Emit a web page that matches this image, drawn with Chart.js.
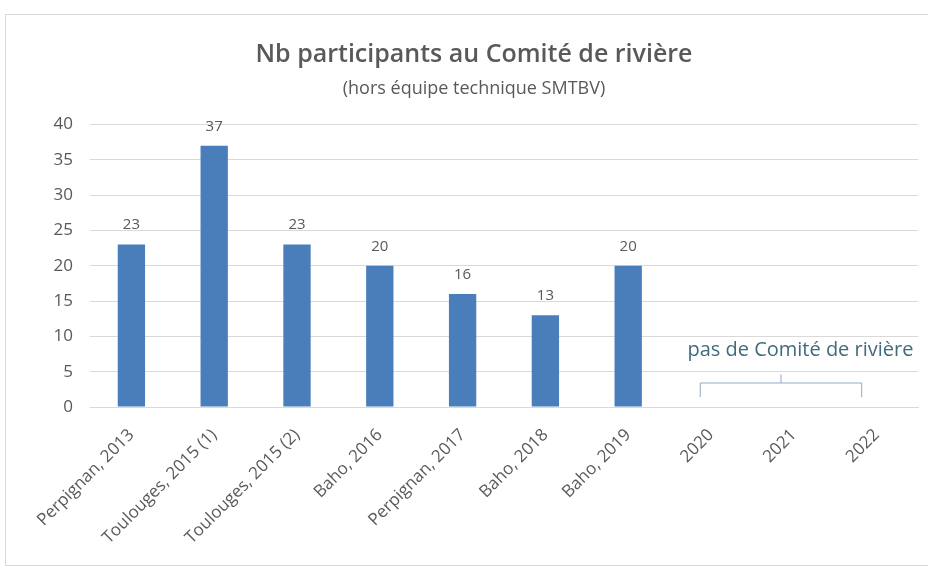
<!DOCTYPE html>
<html>
<head>
<meta charset="utf-8">
<script src="https://cdn.jsdelivr.net/npm/chart.js@4"></script>
<style>
    body { margin: 0; background: #fff; }
    #frame {
        position: absolute; left: 5px; top: 14px;
        width: 940px; height: 550px;
        border: 1px solid #d9d9d9;
    }
    #wrap { position: absolute; left: 0; top: 0; width: 928px; height: 566px; }
</style>
</head>
<body>
<div id="frame"></div>
<div id="wrap"><canvas id="myChart"></canvas></div>
<script>
const labels = ['Perpignan, 2013', 'Toulouges, 2015 (1)', 'Toulouges, 2015 (2)', 'Baho, 2016',
    'Perpignan, 2017', 'Baho, 2018', 'Baho, 2019', '2020', '2021', '2022'];
const participants = [23, 37, 23, 20, 16, 13, 20, null, null, null];
const yTicks = [0, 5, 10, 15, 20, 25, 30, 35, 40];
const noMeetingText = 'pas de Comité de rivière';

const grey = '#595959';
const font = '"Open Sans", Lato, sans-serif';

// value labels above each bar
const barValues = {
    id: 'barValues',
    afterDatasetsDraw(chart) {
        const ctx = chart.ctx;
        const meta = chart.getDatasetMeta(0);
        ctx.save();
        ctx.fillStyle = grey;
        ctx.font = '15px ' + font;
        ctx.textAlign = 'center';
        ctx.textBaseline = 'bottom';
        meta.data.forEach((bar, i) => {
            if (participants[i] == null) return;
            ctx.fillText(participants[i], bar.x, bar.y - 12);
        });
        ctx.restore();
    }
};

// bracket over the years without a meeting
const noMeeting = {
    id: 'noMeeting',
    afterDraw(chart) {
        const x = chart.scales.x, y = chart.scales.y;
        const ctx = chart.ctx;
        const x0 = x.getPixelForValue(6.87), x1 = x.getPixelForValue(8.82);
        const xm = (x0 + x1) / 2;
        const yLine = y.getPixelForValue(3.4);
        ctx.save();
        ctx.strokeStyle = '#8fa9c9';
        ctx.lineWidth = 1;
        ctx.beginPath();
        ctx.moveTo(x0, y.getPixelForValue(1.4));
        ctx.lineTo(x0, yLine);
        ctx.lineTo(x1, yLine);
        ctx.lineTo(x1, y.getPixelForValue(1.4));
        ctx.moveTo(xm, yLine);
        ctx.lineTo(xm, y.getPixelForValue(4.6));
        ctx.stroke();
        ctx.fillStyle = '#3f6b7c';
        ctx.font = '20px ' + font;
        ctx.textAlign = 'center';
        ctx.textBaseline = 'middle';
        ctx.fillText(noMeetingText, x.getPixelForValue(8.08), y.getPixelForValue(8));
        ctx.restore();
    }
};

const data = {
    labels: labels,
    datasets: [{
        data: participants,
        backgroundColor: '#4a7ebb',
        categoryPercentage: 1,
        barPercentage: 0.33
    }]
};

const config = {
    type: 'bar',
    data: data,
    options: {
        responsive: true,
        maintainAspectRatio: false,
        animation: false,
        layout: { padding: { left: 30, right: 10, top: 0, bottom: 0 } },
        plugins: {
            legend: { display: false },
            tooltip: { enabled: false },
            title: {
                display: true,
                text: 'Nb participants au Comité de rivière',
                color: grey,
                font: { family: font, size: 25, weight: 600 },
                padding: { top: 40, bottom: 8 }
            },
            subtitle: {
                display: true,
                text: '(hors équipe technique SMTBV)',
                color: grey,
                font: { family: font, size: 18 },
                padding: { top: 0, bottom: 25 }
            }
        },
        scales: {
            x: {
                grid: { display: false },
                border: { color: '#d9d9d9' },
                ticks: {
                    color: grey,
                    font: { family: font, size: 17 },
                    maxRotation: 45,
                    minRotation: 45,
                    padding: 10
                },
                afterFit(axis) { axis.height = 159; }
            },
            y: {
                min: 0,
                max: 40,
                afterBuildTicks(axis) { axis.ticks = yTicks.map(v => ({ value: v })); },
                grid: { color: '#d9d9d9', drawTicks: false },
                border: { display: false },
                ticks: {
                    color: grey,
                    font: { family: font, size: 17 },
                    padding: 17
                },
                afterFit(axis) { axis.width = 60; }
            }
        }
    },
    plugins: [barValues, noMeeting]
};

const myChart = new Chart(document.getElementById('myChart'), config);
</script>
</body>
</html>
